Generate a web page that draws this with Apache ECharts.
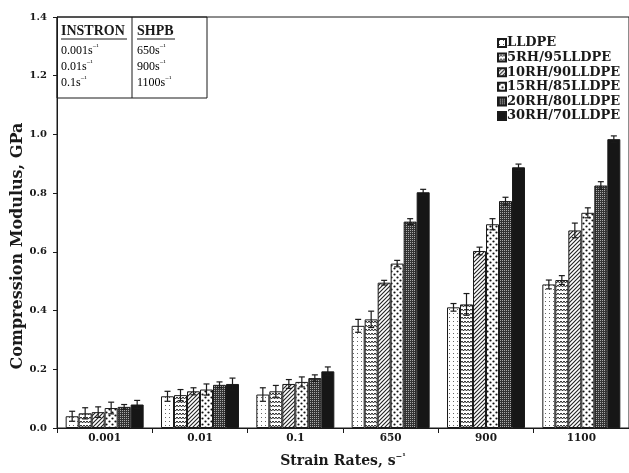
<!DOCTYPE html>
<html>
<head>
<meta charset="utf-8">
<script src="https://cdn.jsdelivr.net/npm/echarts@6/dist/echarts.min.js"></script>
<style>
  html, body { margin: 0; padding: 0; background: #fff; }
  #chart { width: 629px; height: 473px; }
</style>
</head>
<body>
<div id="chart"></div>
<script>
// Strain-rate categories (quasi-static INSTRON and high-rate SHPB)
const categories = ['0.001', '0.01', '0.1', '650', '900', '1100'];
const seriesNames = ['LLDPE', '5RH/95LLDPE', '10RH/90LLDPE', '15RH/85LLDPE', '20RH/80LLDPE', '30RH/70LLDPE'];

// Compression modulus (GPa) per blend
const lldpe   = [0.040, 0.108, 0.114, 0.348, 0.411, 0.489];
const rh5     = [0.050, 0.112, 0.125, 0.370, 0.421, 0.504];
const rh10    = [0.054, 0.125, 0.150, 0.495, 0.603, 0.673];
const rh15    = [0.068, 0.131, 0.157, 0.560, 0.694, 0.733];
const rh20    = [0.072, 0.147, 0.170, 0.703, 0.773, 0.826];
const rh30    = [0.080, 0.150, 0.193, 0.803, 0.888, 0.984];

// Standard deviations (GPa)
const lldpeErr = [0.017, 0.017, 0.023, 0.022, 0.013, 0.015];
const rh5Err   = [0.019, 0.019, 0.020, 0.028, 0.037, 0.015];
const rh10Err  = [0.018, 0.012, 0.015, 0.008, 0.013, 0.025];
const rh15Err  = [0.020, 0.019, 0.017, 0.011, 0.019, 0.017];
const rh20Err  = [0.008, 0.010, 0.011, 0.010, 0.013, 0.013];
const rh30Err  = [0.014, 0.020, 0.015, 0.010, 0.011, 0.011];

const values = [lldpe, rh5, rh10, rh15, rh20, rh30];
const errors = [lldpeErr, rh5Err, rh10Err, rh15Err, rh20Err, rh30Err];

const yTicks = { min: 0, max: 1.4, interval: 0.2 };

// Test-method inset table
const instronRates = ['0.001', '0.01', '0.1'];
const shpbRates = ['650', '900', '1100'];

// Monochrome fill patterns for the bars
function pattern(w, h, draw) {
  const c = document.createElement('canvas');
  c.width = w; c.height = h;
  const ctx = c.getContext('2d');
  ctx.fillStyle = '#fff';
  ctx.fillRect(0, 0, w, h);
  draw(ctx);
  return { image: c, repeat: 'repeat' };
}
const fills = [
  pattern(4, 4, ctx => { ctx.fillStyle = '#666'; ctx.fillRect(1, 1, 1, 1); }),
  pattern(6, 4, ctx => {
    ctx.strokeStyle = '#222'; ctx.lineWidth = 1;
    ctx.beginPath(); ctx.moveTo(0, 1); ctx.lineTo(1.5, 3); ctx.lineTo(3, 1); ctx.lineTo(4.5, 3); ctx.lineTo(6, 1); ctx.stroke();
  }),
  pattern(4, 4, ctx => {
    ctx.strokeStyle = '#222'; ctx.lineWidth = 1.1;
    ctx.beginPath();
    ctx.moveTo(-1, 5); ctx.lineTo(5, -1);
    ctx.moveTo(-1, 1); ctx.lineTo(1, -1);
    ctx.moveTo(3, 5); ctx.lineTo(5, 3);
    ctx.stroke();
  }),
  pattern(6, 6, ctx => {
    ctx.fillStyle = '#111';
    ctx.beginPath(); ctx.arc(1.5, 1.5, 1.1, 0, Math.PI * 2); ctx.fill();
    ctx.beginPath(); ctx.arc(4.5, 4.5, 1.1, 0, Math.PI * 2); ctx.fill();
  }),
  pattern(2, 2, ctx => {
    ctx.fillStyle = '#333'; ctx.fillRect(0, 0, 2, 2);
    ctx.fillStyle = '#aaa'; ctx.fillRect(0, 0, 1, 1);
  }),
  '#161616'
];

const serif = '"Liberation Serif", "DejaVu Serif", serif';
const wideSerif = '"DejaVu Serif", "Liberation Serif", serif';
const ink = '#1a1a1a';
const barWidth = 13;

const barSeries = seriesNames.map((name, i) => ({
  name: name,
  type: 'bar',
  data: values[i],
  barWidth: barWidth,
  barGap: '0%',
  itemStyle: { color: fills[i], borderColor: ink, borderWidth: 1 },
  emphasis: { disabled: true },
  z: 2
}));

// Error bars drawn on top of each bar, shifted to that bar's slot
const errorSeries = seriesNames.map((name, i) => ({
  type: 'custom',
  data: values[i].map((v, k) => [k, v, errors[i][k]]),
  z: 5,
  silent: true,
  renderItem: function (params, api) {
    const k = api.value(0), v = api.value(1), e = api.value(2);
    const base = api.coord([k, v]);
    const x = base[0] + (i - 2.5) * barWidth;
    const yt = api.coord([k, v + e])[1];
    const yb = api.coord([k, v - e])[1];
    const cap = 3;
    const st = { stroke: ink, lineWidth: 1.2 };
    return {
      type: 'group',
      children: [
        { type: 'line', shape: { x1: x, y1: yt, x2: x, y2: yb }, style: st },
        { type: 'line', shape: { x1: x - cap, y1: yt, x2: x + cap, y2: yt }, style: st },
        { type: 'line', shape: { x1: x - cap, y1: yb, x2: x + cap, y2: yb }, style: st }
      ]
    };
  }
}));

// Rich-text styles for "s^-1" units
const unitRich = {
  n: { fontFamily: serif, fontSize: 12, color: ink, lineHeight: 14 },
  sup: { fontFamily: serif, fontSize: 7, color: ink, lineHeight: 14, verticalAlign: 'top', padding: [0, 0, 5, 0] }
};

const tableLeft = 57, tableRight = 207, tableDiv = 132, tableTop = 17, tableBottom = 98;
const rowY = [51, 67, 83];

const graphics = [
  { type: 'rect', shape: { x: tableLeft, y: tableTop, width: tableRight - tableLeft, height: tableBottom - tableTop },
    style: { fill: 'none', stroke: ink, lineWidth: 1 }, z: 10 },
  { type: 'line', shape: { x1: tableDiv, y1: tableTop, x2: tableDiv, y2: tableBottom }, style: { stroke: ink, lineWidth: 1 }, z: 10 },
  { type: 'text', x: 61, y: 31, style: { text: 'INSTRON', font: 'bold 14px ' + serif, fill: ink, verticalAlign: 'middle' }, z: 10 },
  { type: 'line', shape: { x1: 61, y1: 39, x2: 127, y2: 39 }, style: { stroke: ink, lineWidth: 1 }, z: 10 },
  { type: 'text', x: 137, y: 31, style: { text: 'SHPB', font: 'bold 14px ' + serif, fill: ink, verticalAlign: 'middle' }, z: 10 },
  { type: 'line', shape: { x1: 137, y1: 39, x2: 175, y2: 39 }, style: { stroke: ink, lineWidth: 1 }, z: 10 }
];
rowY.forEach((y, r) => {
  graphics.push({ type: 'text', x: 61, y: y, z: 10,
    style: { text: '{n|' + instronRates[r] + 's}{sup|\u2212\u00B9}', rich: unitRich, verticalAlign: 'middle' } });
  graphics.push({ type: 'text', x: 137, y: y, z: 10,
    style: { text: '{n|' + shpbRates[r] + 's}{sup|\u2212\u00B9}', rich: unitRich, verticalAlign: 'middle' } });
});
graphics.push({
  type: 'text', x: 18, y: 246, rotation: Math.PI / 2,
  style: { text: 'Compression Modulus, GPa', font: 'bold 16px ' + wideSerif, fill: ink, align: 'center', verticalAlign: 'middle' }
});

const chart = echarts.init(document.getElementById('chart'), null, { renderer: 'canvas' });
chart.setOption({
  animation: false,
  backgroundColor: '#fff',
  textStyle: { fontFamily: serif, color: ink },
  grid: { left: 57, right: -6, top: 17, bottom: 41, show: true, borderColor: ink, borderWidth: 1, backgroundColor: 'transparent' },
  legend: {
    orient: 'vertical', left: 492, top: 31, itemWidth: 8, itemHeight: 8, itemGap: 0.6,
    icon: 'rect', selectedMode: false,
    textStyle: { fontFamily: wideSerif, fontWeight: 'bold', fontSize: 13, lineHeight: 14, color: ink, padding: [0, 0, 0, -4] },
    data: seriesNames
  },
  xAxis: {
    type: 'category', data: categories,
    axisLine: { lineStyle: { color: ink, width: 1 } },
    axisTick: { show: true, length: 5, lineStyle: { color: ink } },
    axisLabel: { fontFamily: wideSerif, fontWeight: 'bold', fontSize: 10.5, color: ink, margin: 5 },
    name: '{t|Strain Rates, s}{sup|\u2212\u00B9}', nameLocation: 'middle', nameGap: 25,
    nameTextStyle: {
      rich: {
        t: { fontFamily: wideSerif, fontWeight: 'bold', fontSize: 14, color: ink, lineHeight: 16 },
        sup: { fontFamily: wideSerif, fontWeight: 'bold', fontSize: 8, color: ink, lineHeight: 16, verticalAlign: 'top', padding: [0, 0, 6, 0] }
      }
    }
  },
  yAxis: {
    type: 'value', min: yTicks.min, max: yTicks.max, interval: yTicks.interval,
    splitLine: { show: false },
    axisLine: { show: true, lineStyle: { color: ink, width: 1 } },
    axisTick: { show: true, length: 4, lineStyle: { color: ink } },
    axisLabel: { fontFamily: wideSerif, fontWeight: 'bold', fontSize: 10, color: ink, margin: 10, formatter: v => v.toFixed(1) }
  },
  graphic: graphics,
  series: barSeries.concat(errorSeries)
});
</script>
</body>
</html>
